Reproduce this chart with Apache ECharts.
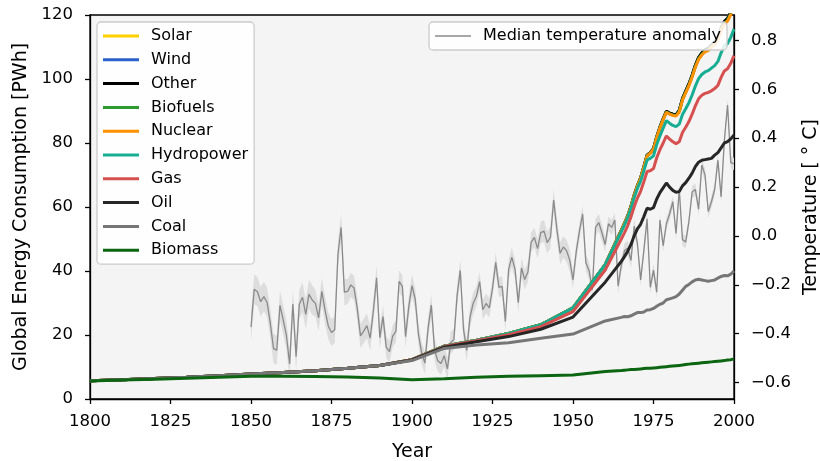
<!DOCTYPE html>
<html><head><meta charset="utf-8">
<script src="https://cdn.jsdelivr.net/npm/echarts@6/dist/echarts.min.js"></script>
<style>html,body{margin:0;padding:0;background:#fff}#c{width:820px;height:461px}</style>
</head><body><div id="c"></div>
<script>
// ---------- energy data (PWh), one value per year in `years` ----------
const years = [1800,1810,1820,1830,1840,1850,1860,1870,1880,1890,1900,1910,1920,1930,1940,1950,1960,
  1965,1966,1967,1968,1969,1970,1971,1972,1973,1974,1975,1976,1977,1978,1979,1980,1981,1982,1983,1984,
  1985,1986,1987,1988,1989,1990,1991,1992,1993,1994,1995,1996,1997,1998,1999,2000];

const biomass = [5.6,5.9,6.2,6.5,6.8,7.1,7.1,7.0,6.9,6.6,6.0,6.3,6.8,7.1,7.3,7.5,8.6,
  8.9,9.0,9.1,9.2,9.2,9.3,9.4,9.5,9.6,9.6,9.7,9.8,9.9,10.0,10.1,10.2,10.3,10.4,10.5,10.6,
  10.8,10.9,11.0,11.1,11.2,11.3,11.4,11.5,11.6,11.7,11.8,11.9,12.0,12.2,12.3,12.5];
const coal = [0.1,0.15,0.2,0.3,0.5,0.7,1.2,1.8,2.7,3.9,6.0,9.5,10.1,10.5,11.7,12.8,15.8,
  16.6,16.8,16.6,16.8,17.3,17.7,17.6,17.7,18.2,18.3,18.6,19.2,19.7,20.0,20.9,21.1,21.3,21.6,22.3,23.4,
  24.4,24.9,25.6,26.1,26.2,25.9,25.6,25.3,25.4,25.5,26.0,26.4,26.6,26.3,26.7,27.5];
const oil = [0,0,0,0,0,0,0,0,0,0,0.2,0.4,1.0,1.9,2.8,5.3,12.1,
  17.5,18.7,20.5,22.3,24.5,26.2,27.6,29.8,31.8,31.4,31.5,33.5,34.9,36.0,36.5,34.9,33.6,32.6,32.0,32.6,
  32.4,33.2,34.0,35.4,36.6,37.4,37.8,38.2,38.2,39.0,39.2,40.2,41.4,41.9,42.3,42.5];
const gas = [0,0,0,0,0,0,0,0,0,0,0.1,0.2,0.3,0.6,0.8,1.7,3.8,
  7.0,7.5,8.0,8.6,9.1,9.6,10.3,10.9,11.5,12.0,12.2,12.9,13.4,14.0,14.7,15.0,15.2,15.2,15.6,16.7,
  17.3,17.7,18.4,19.0,19.8,20.3,20.7,20.8,21.1,20.8,21.0,22.0,22.5,22.8,23.6,24.8];
const hydropower = [0,0,0,0,0,0,0,0,0,0,0,0.1,0.2,0.4,0.6,1.2,1.7,
  2.3,2.4,2.5,2.7,2.9,3.0,3.2,3.4,3.6,3.9,4.0,4.1,4.3,4.6,4.8,5.0,5.1,5.3,5.5,5.6,
  5.8,5.9,6.0,6.2,6.3,6.5,6.7,6.8,7.1,7.2,7.5,7.7,7.8,7.9,8.1,8.3];
const nuclear = [0,0,0,0,0,0,0,0,0,0,0,0,0,0,0,0,0,
  0.3,0.4,0.4,0.5,0.6,0.7,0.9,1.1,1.3,1.6,2.0,2.2,2.5,2.7,2.6,2.8,3.1,3.3,3.8,4.5,
  5.0,5.3,5.6,5.9,6.0,6.1,6.3,6.3,6.5,6.6,6.8,7.0,6.9,7.0,7.2,7.3];
const biofuels = [0,0,0,0,0,0,0,0,0,0,0,0,0,0,0,0,0,
  0,0,0,0,0,0.01,0.01,0.01,0.02,0.02,0.03,0.04,0.05,0.07,0.09,0.12,0.14,0.15,0.17,0.18,
  0.19,0.2,0.2,0.21,0.2,0.2,0.2,0.21,0.22,0.22,0.24,0.25,0.26,0.26,0.27,0.28];
const other = [0,0,0,0,0,0,0,0,0,0,0,0,0,0,0,0,0,
  0.1,0.1,0.1,0.11,0.12,0.13,0.14,0.15,0.16,0.17,0.18,0.19,0.2,0.21,0.22,0.23,0.25,0.27,0.29,0.31,
  0.33,0.35,0.37,0.38,0.4,0.42,0.43,0.44,0.45,0.46,0.47,0.48,0.5,0.52,0.54,0.56];
const wind = [0,0,0,0,0,0,0,0,0,0,0,0,0,0,0,0,0,
  0,0,0,0,0,0,0,0,0,0,0,0,0,0,0,0,0,0,0,0,
  0.002,0.003,0.004,0.008,0.01,0.011,0.012,0.014,0.017,0.021,0.025,0.03,0.04,0.05,0.065,0.085];
const solar = [0,0,0,0,0,0,0,0,0,0,0,0,0,0,0,0,0,
  0,0,0,0,0,0,0,0,0,0,0,0,0,0,0,0,0,0,0,0,
  0,0,0,0,0,0.001,0.001,0.001,0.001,0.002,0.002,0.002,0.002,0.003,0.003,0.003];

// ---------- temperature anomaly (deg C), yearly from 1850 ----------
const tempStartYear = 1850;
const tempMedian = [
  -0.373,-0.218,-0.228,-0.269,-0.248,-0.272,-0.358,-0.461,-0.467,-0.284,
  -0.343,-0.407,-0.524,-0.278,-0.494,-0.279,-0.251,-0.321,-0.238,-0.262,
  -0.276,-0.335,-0.227,-0.304,-0.368,-0.395,-0.384,-0.075,0.035,-0.230,
  -0.227,-0.200,-0.213,-0.296,-0.409,-0.389,-0.367,-0.418,-0.307,-0.171,
  -0.416,-0.330,-0.455,-0.473,-0.410,-0.390,-0.186,-0.206,-0.412,-0.289,
  -0.203,-0.259,-0.402,-0.479,-0.520,-0.377,-0.283,-0.465,-0.511,-0.522,
  -0.490,-0.544,-0.437,-0.424,-0.244,-0.141,-0.383,-0.468,-0.333,-0.275,
  -0.247,-0.187,-0.302,-0.276,-0.294,-0.215,-0.108,-0.210,-0.206,-0.350,
  -0.137,-0.087,-0.137,-0.273,-0.131,-0.178,-0.147,-0.026,-0.006,-0.052,
  0.014,0.020,-0.027,-0.005,0.147,0.026,-0.071,-0.045,-0.060,-0.100,
  -0.180,-0.065,0.020,0.090,-0.110,-0.142,-0.220,0.035,0.055,0.012,
  -0.035,0.050,0.035,0.065,-0.205,-0.120,-0.060,-0.050,-0.100,0.040,
  -0.030,-0.180,-0.060,0.070,-0.210,-0.140,-0.230,0.065,-0.040,0.050,
  0.090,0.140,0.010,0.190,-0.015,-0.025,0.060,0.180,0.190,0.110,
  0.290,0.250,0.100,0.140,0.190,0.310,0.160,0.390,0.536,0.300,
  0.295];
// half-width of the grey uncertainty band, one value per decade (1850s ... 2000)
const bandHalfWidth = [0.06,0.06,0.055,0.05,0.045,0.045,0.045,0.04,0.04,0.045,0.035,0.03,0.025,0.025,0.025,0.025];

// ---------- tick labels ----------
const xTicks = [1800,1825,1850,1875,1900,1925,1950,1975,2000];
const energyTicks = [0,20,40,60,80,100,120];
const tempTicks = [-0.6,-0.4,-0.2,0.0,0.2,0.4,0.6,0.8];

// ---------- build chart ----------
const F = 'DejaVu Sans';
const energy = [
  {name:'Biomass',    data:biomass,    color:'#0c6510'},
  {name:'Coal',       data:coal,       color:'#767676'},
  {name:'Oil',        data:oil,        color:'#262626'},
  {name:'Gas',        data:gas,        color:'#d5504f'},
  {name:'Hydropower', data:hydropower, color:'#17ad93'},
  {name:'Nuclear',    data:nuclear,    color:'#ff9000'},
  {name:'Biofuels',   data:biofuels,   color:'#2e9b31'},
  {name:'Other',      data:other,      color:'#000000'},
  {name:'Wind',       data:wind,       color:'#2a62c9'},
  {name:'Solar',      data:solar,      color:'#ffd000'}
];
const series = [];
const tYears = tempMedian.map((v,i)=>tempStartYear+i);
const bandTable = tempMedian.map((v,i)=>{const h=bandHalfWidth[Math.floor(i/10)]; return [tYears[i], v-h, v+h];});

series.push({type:'custom', yAxisIndex:1, silent:true, z:1, clip:true,
  data:bandTable,
  renderItem:(params, api)=>{
    if (params.dataIndex !== 0) return null;
    const up = bandTable.map(r=>api.coord([r[0], r[2]]));
    const lo = bandTable.map(r=>api.coord([r[0], r[1]])).reverse();
    return {type:'polygon', shape:{points:up.concat(lo)}, style:{fill:'#dddddd', stroke:null}};
  }});
series.push({type:'line', name:'Median temperature anomaly', yAxisIndex:1,
  data:tempMedian.map((v,i)=>[tYears[i],v]), symbol:'none', color:'#8a8a8a',
  lineStyle:{width:1.3,color:'#8a8a8a'}, z:1.5});

const running = years.map(()=>0);
energy.forEach((s,i)=>{
  const cum = s.data.map((v,k)=>{running[k]+=v; return [years[k], +running[k].toFixed(4)];});
  series.push({type:'line', name:s.name, yAxisIndex:0,
    data:cum, symbol:'none', color:s.color,
    lineStyle:{width:3,color:s.color}, itemStyle:{color:s.color},
    z: 2 + (energy.length - i)*0.1});
});

const legendCommon = {
  orient:'vertical', padding:[6,6,6,6], itemGap:7.8, itemWidth:36, itemHeight:3, icon:'rect',
  backgroundColor:'rgba(255,255,255,0.85)', borderColor:'#cccccc', borderWidth:1.3, borderRadius:4,
  selectedMode:false, textStyle:{fontSize:16, fontFamily:F, color:'#000', lineHeight:16, padding:[0,0,0,7]}
};
const axisCommon = {
  axisLine:{show:true, lineStyle:{color:'#000', width:1.3}},
  axisTick:{show:true, length:5, lineStyle:{color:'#000', width:1.3}},
  splitLine:{show:false},
  nameTextStyle:{fontSize:19, fontFamily:F, color:'#000'}
};
const chart = echarts.init(document.getElementById('c'), null, {renderer:'canvas'});
chart.setOption({
  animation:false,
  textStyle:{fontFamily:F},
  grid:{left:90, right:86, top:15, bottom:62, containLabel:false, outerBoundsMode:'none',
    show:true, backgroundColor:'#f4f4f4', borderColor:'#000', borderWidth:1.3},
  legend:[
    Object.assign({}, legendCommon, {data:['Solar','Wind','Other','Biofuels','Nuclear','Hydropower','Gas','Oil','Coal','Biomass'], left:97, top:22}),
    Object.assign({}, legendCommon, {data:['Median temperature anomaly'], right:93, top:22, itemHeight:1.6})
  ],
  xAxis:Object.assign({}, axisCommon, {type:'value', min:xTicks[0], max:xTicks[xTicks.length-1], interval:xTicks[1]-xTicks[0],
    name:'Year', nameLocation:'middle', nameGap:44,
    axisLabel:{fontSize:16.5, color:'#000', margin:14, formatter:v=>String(v)}}),
  yAxis:[
    Object.assign({}, axisCommon, {type:'value', position:'left', min:energyTicks[0], max:energyTicks[energyTicks.length-1],
      interval:energyTicks[1]-energyTicks[0], name:'Global Energy Consumption [PWh]', nameLocation:'middle', nameRotate:90, nameGap:52,
      axisLabel:{fontSize:16.5, color:'#000', margin:17}}),
    Object.assign({}, axisCommon, {type:'value', position:'right', min:-0.667, max:0.904,
      name:'Temperature [ ° C]', nameLocation:'middle', nameRotate:90, nameGap:66,
      axisTick:{show:true, length:5, lineStyle:{color:'#000', width:1.3}, customValues:tempTicks},
      axisLabel:{fontSize:16.5, color:'#000', margin:17, customValues:tempTicks,
        formatter:v=>{const s=Number(v).toFixed(1); return s.replace('-','−');}}})
  ],
  series:series
});
</script></body></html>
